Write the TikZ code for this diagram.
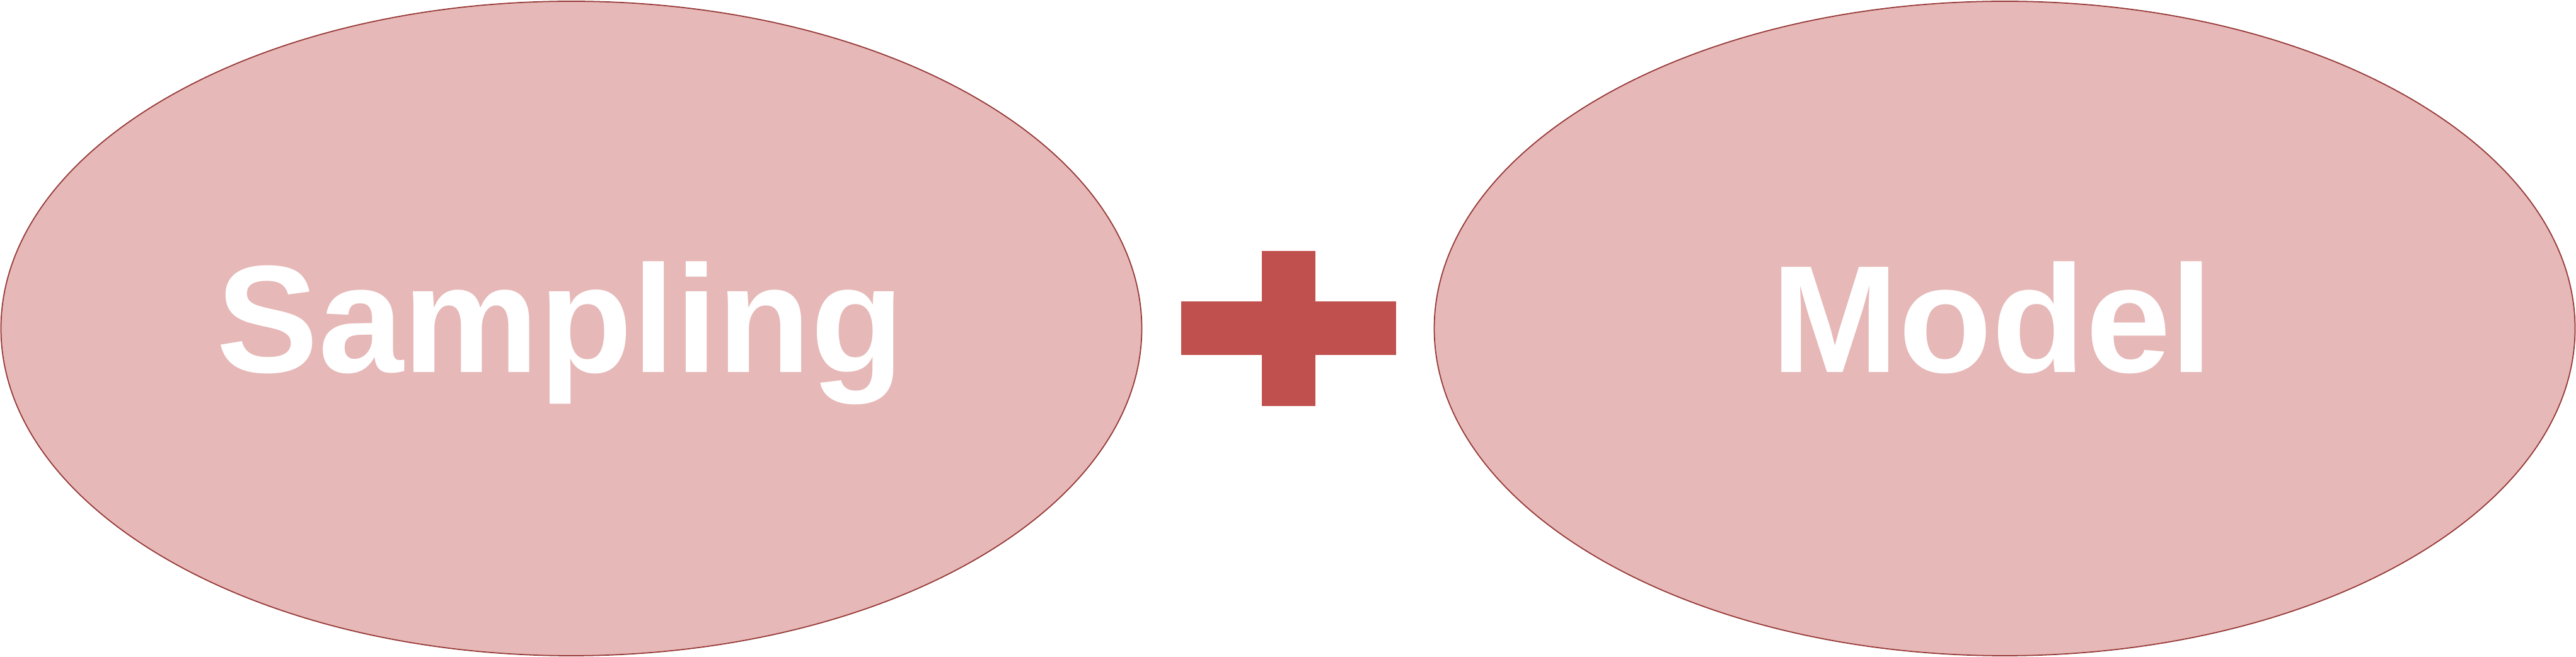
\documentclass[tikz,border=0pt]{standalone}
\usepackage{fontspec}
\setmainfont{Liberation Sans}
\usepackage{tikz}
\usetikzlibrary{shapes.geometric, positioning}
\definecolor{ovalfill}{HTML}{E6B8B7}
\definecolor{ovalline}{HTML}{953735}
\definecolor{plusred}{HTML}{C0504D}

\begin{document}
\begin{tikzpicture}[
    oval/.style={ellipse, draw=ovalline, line width=0.5pt, fill=ovalfill,
      minimum width=18.1cm, minimum height=10.38cm, inner sep=0pt},
    caption/.style={anchor=base, text=white, inner sep=0pt,
      font=\fontsize{69}{79}\selectfont\bfseries},
    bar/.style={fill=plusred, inner sep=0pt}
  ]
    \useasboundingbox (0,0) rectangle (40.87,10.42);

    % Left oval: Sampling
    \node[oval] (sampling) at (9.065, 5.21) {};
    \node[caption] (samplingtext) at (8.89, 4.51) {Sampling};

    % Plus sign
    \node[bar, minimum width=3.41cm, minimum height=0.85cm] (plush) at (20.445, 5.21) {};
    \node[bar, minimum width=0.85cm, minimum height=2.46cm] (plusv) at (20.445, 5.21) {};

    % Right oval: Model
    \node[oval] (model) at (31.805, 5.21) {};
    \node[caption] (modeltext) at (31.61, 4.51) {Model};

  \end{tikzpicture}
\end{document}
